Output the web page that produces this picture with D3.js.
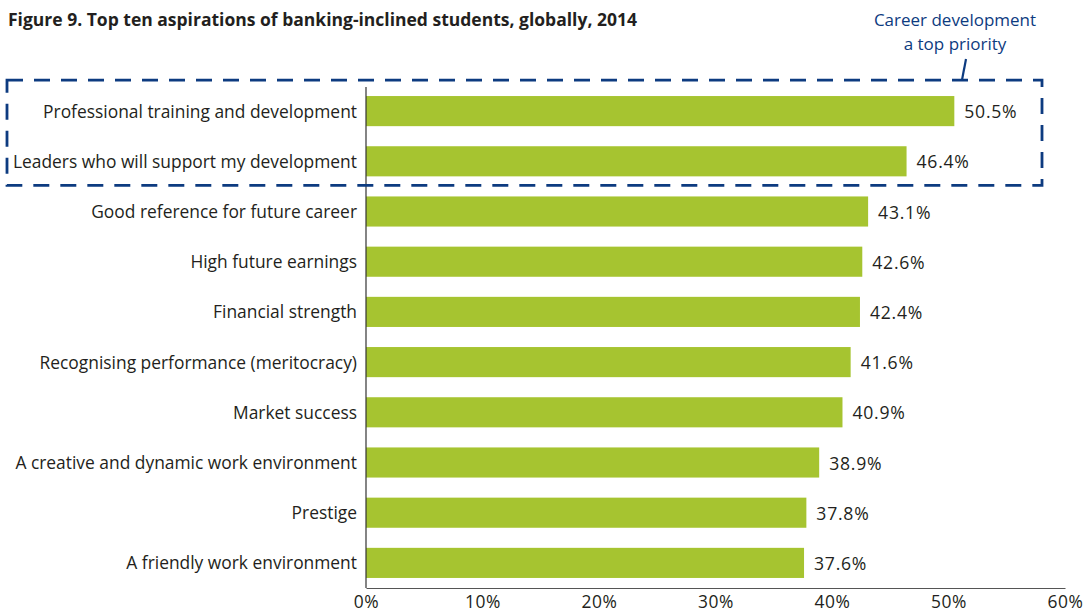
<!DOCTYPE html>
<html>
<head>
<meta charset="utf-8">
<script src="https://cdn.jsdelivr.net/npm/d3@7"></script>
<style>
  html, body { margin: 0; padding: 0; background: #fff; }
  svg { display: block; font-family: "Open Sans", "Noto Sans", sans-serif; }
</style>
</head>
<body>
<svg id="chart" width="1084" height="614"></svg>
<script>
const categories = [
  "Professional training and development",
  "Leaders who will support my development",
  "Good reference for future career",
  "High future earnings",
  "Financial strength",
  "Recognising performance (meritocracy)",
  "Market success",
  "A creative and dynamic work environment",
  "Prestige",
  "A friendly work environment"
];
const values = [50.5, 46.4, 43.1, 42.6, 42.4, 41.6, 40.9, 38.9, 37.8, 37.6];
const tickValues = [0, 10, 20, 30, 40, 50, 60];
const highlighted = ["Professional training and development", "Leaders who will support my development"];
const titleText = "Figure 9. Top ten aspirations of banking-inclined students, globally, 2014";
const noteLines = ["Career development", "a top priority"];

const svg = d3.select("#chart");
const navy = "#0d3b80";
const textColor = "#231f20";
const fontStack = "\"Open Sans\", \"Noto Sans\", sans-serif";

const x = d3.scaleLinear().domain([0, 60]).range([366, 1065]);
const y = d3.scaleBand().domain(categories).range([86, 588]).paddingInner(0.4).paddingOuter(0.2);

// Title
svg.append("text")
  .attr("x", 8).attr("y", 26)
  .attr("font-size", 17.5).attr("font-weight", "bold")
  .attr("fill", textColor)
  .text(titleText);

// Bars
svg.append("g").selectAll("rect")
  .data(values)
  .join("rect")
  .attr("x", x(0))
  .attr("y", (d, i) => y(categories[i]))
  .attr("width", d => x(d) - x(0))
  .attr("height", y.bandwidth())
  .attr("fill", "#a6c430");

// Value labels
svg.append("g").selectAll("text")
  .data(values)
  .join("text")
  .attr("x", d => x(d) + 10)
  .attr("y", (d, i) => y(categories[i]) + y.bandwidth() / 2 + 1)
  .attr("dy", "0.35em")
  .attr("font-size", 17.6)
  .attr("letter-spacing", 0.75)
  .attr("fill", textColor)
  .text(d => d.toFixed(1) + "%");

// Category axis
const yAxis = svg.append("g")
  .attr("transform", `translate(${x(0)},1)`)
  .call(d3.axisLeft(y).tickSize(0).tickPadding(9));
yAxis.select(".domain").attr("stroke", "#333").attr("stroke-width", 1.2)
  .attr("d", `M0,86V587`);
yAxis.selectAll("text").attr("font-size", 17.4).attr("fill", textColor)
  .attr("font-family", fontStack);

// Value axis
const xAxis = svg.append("g")
  .attr("transform", "translate(0,588)")
  .call(d3.axisBottom(x).tickValues(tickValues).tickSize(0).tickPadding(8).tickFormat(d => d + "%"));
xAxis.select(".domain").attr("stroke", "#555").attr("stroke-width", 1.2);
xAxis.selectAll("text").attr("font-size", 17.4).attr("letter-spacing", 0.6).attr("fill", textColor)
  .attr("font-family", fontStack);

// Dashed box around the career-development items
const boxTop = y(highlighted[0]) - 16;
const boxBottom = y(highlighted[1]) + y.bandwidth() + 9;
svg.append("rect")
  .attr("x", 7).attr("y", boxTop)
  .attr("width", 1042 - 7).attr("height", boxBottom - boxTop)
  .attr("fill", "none")
  .attr("stroke", navy)
  .attr("stroke-width", 2.8)
  .attr("stroke-dasharray", "16,11");

// Annotation
svg.append("g").selectAll("text")
  .data(noteLines)
  .join("text")
  .attr("x", 955)
  .attr("y", (d, i) => 26 + i * 24)
  .attr("text-anchor", "middle")
  .attr("font-size", 17)
  .attr("fill", navy)
  .text(d => d);

svg.append("line")
  .attr("x1", 966).attr("y1", 59)
  .attr("x2", 962).attr("y2", boxTop)
  .attr("stroke", navy).attr("stroke-width", 2.2);
</script>
</body>
</html>
